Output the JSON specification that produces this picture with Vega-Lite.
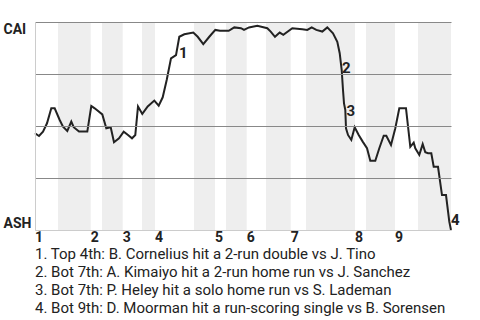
{
  "$schema": "https://vega.github.io/schema/vega-lite/v6.json",
  "width": 416,
  "height": 208,
  "autosize": {"type": "none"},
  "padding": {"left": 35, "top": 22, "right": 29, "bottom": 90},
  "background": "white",
  "config": {"view": {"stroke": null}, "font": "Roboto", "text": {"font": "Roboto"}},
  "datasets": {
    "bands": [
      {"half": "Bot 1", "start": 23, "end": 55.7},
      {"half": "Bot 2", "start": 67, "end": 87.7},
      {"half": "Bot 3", "start": 107, "end": 120},
      {"half": "Bot 4", "start": 159, "end": 180},
      {"half": "Bot 5", "start": 191, "end": 211.7},
      {"half": "Bot 6", "start": 231, "end": 255.7},
      {"half": "Bot 7", "start": 271, "end": 320},
      {"half": "Bot 8", "start": 331, "end": 360},
      {"half": "Bot 9", "start": 383, "end": 416}
    ],
    "innings": [
      {"inning": "1", "start": 0},
      {"inning": "2", "start": 55.7},
      {"inning": "3", "start": 87.7},
      {"inning": "4", "start": 120},
      {"inning": "5", "start": 180},
      {"inning": "6", "start": 211.7},
      {"inning": "7", "start": 255.7},
      {"inning": "8", "start": 320},
      {"inning": "9", "start": 360}
    ],
    "plays": [
      {"x": 0, "wp": 0.465}, {"x": 4, "wp": 0.452}, {"x": 8, "wp": 0.473}, {"x": 12, "wp": 0.513},
      {"x": 16.3, "wp": 0.585}, {"x": 19.7, "wp": 0.585}, {"x": 24.7, "wp": 0.529}, {"x": 28, "wp": 0.497},
      {"x": 32.3, "wp": 0.476}, {"x": 36.3, "wp": 0.521}, {"x": 38.7, "wp": 0.494}, {"x": 44, "wp": 0.473},
      {"x": 52.3, "wp": 0.473}, {"x": 56.3, "wp": 0.596}, {"x": 59.7, "wp": 0.585}, {"x": 67.3, "wp": 0.556},
      {"x": 71.3, "wp": 0.489}, {"x": 75.7, "wp": 0.494}, {"x": 79, "wp": 0.422}, {"x": 84, "wp": 0.441},
      {"x": 88.7, "wp": 0.473}, {"x": 93, "wp": 0.457}, {"x": 97, "wp": 0.441}, {"x": 100.3, "wp": 0.457},
      {"x": 103, "wp": 0.594}, {"x": 107.3, "wp": 0.558}, {"x": 112.7, "wp": 0.594}, {"x": 119.3, "wp": 0.622},
      {"x": 123.7, "wp": 0.598}, {"x": 127.7, "wp": 0.638}, {"x": 131.7, "wp": 0.721}, {"x": 136, "wp": 0.825},
      {"x": 141, "wp": 0.841}, {"x": 144.3, "wp": 0.929}, {"x": 149.3, "wp": 0.941}, {"x": 158.3, "wp": 0.949},
      {"x": 162.7, "wp": 0.929}, {"x": 168.3, "wp": 0.894}, {"x": 174.3, "wp": 0.929}, {"x": 180.3, "wp": 0.962},
      {"x": 185, "wp": 0.958}, {"x": 193.7, "wp": 0.958}, {"x": 199.3, "wp": 0.974}, {"x": 206, "wp": 0.97},
      {"x": 209, "wp": 0.962}, {"x": 214, "wp": 0.974}, {"x": 222.3, "wp": 0.982}, {"x": 232.3, "wp": 0.97},
      {"x": 235.7, "wp": 0.954}, {"x": 240, "wp": 0.929}, {"x": 244.7, "wp": 0.949}, {"x": 248.3, "wp": 0.938},
      {"x": 257.3, "wp": 0.97}, {"x": 267.3, "wp": 0.965}, {"x": 272.3, "wp": 0.962}, {"x": 276.7, "wp": 0.974},
      {"x": 281.3, "wp": 0.962}, {"x": 287.3, "wp": 0.954}, {"x": 292.3, "wp": 0.974}, {"x": 298, "wp": 0.946},
      {"x": 302.3, "wp": 0.905}, {"x": 304.7, "wp": 0.85}, {"x": 306.7, "wp": 0.769}, {"x": 308, "wp": 0.673},
      {"x": 309, "wp": 0.609}, {"x": 310.3, "wp": 0.577}, {"x": 311, "wp": 0.489}, {"x": 313, "wp": 0.457},
      {"x": 316.3, "wp": 0.433}, {"x": 319.7, "wp": 0.494}, {"x": 323.7, "wp": 0.457}, {"x": 327.7, "wp": 0.425},
      {"x": 332, "wp": 0.393}, {"x": 335.3, "wp": 0.333}, {"x": 340.3, "wp": 0.333}, {"x": 344.3, "wp": 0.393},
      {"x": 348.7, "wp": 0.453}, {"x": 351.3, "wp": 0.453}, {"x": 356, "wp": 0.409}, {"x": 360.3, "wp": 0.489},
      {"x": 364.3, "wp": 0.585}, {"x": 371, "wp": 0.585}, {"x": 375.3, "wp": 0.4}, {"x": 378.7, "wp": 0.42},
      {"x": 380.3, "wp": 0.393}, {"x": 384.3, "wp": 0.361}, {"x": 387.7, "wp": 0.413}, {"x": 390.3, "wp": 0.374},
      {"x": 393, "wp": 0.369}, {"x": 396.3, "wp": 0.369}, {"x": 398.7, "wp": 0.304}, {"x": 403, "wp": 0.304},
      {"x": 407, "wp": 0.168}, {"x": 411, "wp": 0.168}, {"x": 414.3, "wp": 0.04}, {"x": 416, "wp": 0}
    ],
    "marks": [
      {"n": "1", "lx": 144, "ly": 0.849},
      {"n": "2", "lx": 307, "ly": 0.779},
      {"n": "3", "lx": 311.5, "ly": 0.57},
      {"n": "4", "lx": 416, "ly": 0.05}
    ],
    "notes": [
      {"n": 1, "note": "1. Top 4th: B. Cornelius hit a 2-run double vs J. Tino"},
      {"n": 2, "note": "2. Bot 7th: A. Kimaiyo hit a 2-run home run vs J. Sanchez"},
      {"n": 3, "note": "3. Bot 7th: P. Heley hit a solo home run vs S. Lademan"},
      {"n": 4, "note": "4. Bot 9th: D. Moorman hit a run-scoring single vs B. Sorensen"}
    ]
  },
  "layer": [
    {
      "layer": [
        {
          "data": {"name": "bands"},
          "mark": {"type": "rect", "color": "#eeeeee"},
          "encoding": {
            "x": {"field": "start", "type": "quantitative", "scale": {"domain": [0, 416], "nice": false, "zero": false}},
            "x2": {"field": "end"}
          }
        },
        {
          "data": {"name": "plays"},
          "mark": {"type": "line", "color": "#222222", "strokeWidth": 2, "strokeJoin": "miter"},
          "encoding": {
            "x": {"field": "x", "type": "quantitative", "scale": {"domain": [0, 416], "nice": false, "zero": false},
                  "axis": {"title": null, "labels": false, "ticks": false, "grid": false, "domain": true, "domainColor": "#cccccc", "zindex": 1}},
            "y": {"field": "wp", "type": "quantitative", "scale": {"domain": [0, 1], "nice": false},
                  "axis": {"title": null, "values": [0, 0.25, 0.5, 0.75, 1], "grid": true,
                           "gridColor": {"condition": {"test": "datum.value === 0", "value": "#cccccc"}, "value": "#888888"},
                           "gridWidth": 1, "domain": true, "domainColor": "#cccccc", "ticks": false, "zindex": 1,
                           "labelExpr": "datum.value === 1 ? 'CAI' : (datum.value === 0 ? 'ASH' : '')",
                           "labelFlush": true, "labelAlign": "left", "labelPadding": 32,
                           "labelFont": "Roboto", "labelFontSize": 14, "labelFontWeight": "bold", "labelColor": "#222222"}}
          }
        },
        {
          "data": {"name": "marks"},
          "mark": {"type": "text", "align": "left", "baseline": "middle", "fontSize": 15, "fontWeight": "bold", "color": "#222222"},
          "encoding": {
            "x": {"field": "lx", "type": "quantitative"},
            "y": {"field": "ly", "type": "quantitative"},
            "text": {"field": "n", "type": "nominal"}
          }
        },
        {
          "data": {"name": "innings"},
          "mark": {"type": "text", "align": "left", "baseline": "alphabetic", "dy": 11.7, "fontSize": 14, "fontWeight": "bold", "color": "#222222"},
          "encoding": {
            "x": {"field": "start", "type": "quantitative"},
            "y": {"datum": 0},
            "text": {"field": "inning", "type": "nominal"}
          }
        }
      ]
    },
    {
      "data": {"name": "notes"},
      "mark": {"type": "text", "align": "left", "baseline": "alphabetic", "fontSize": 15, "color": "#222222"},
      "encoding": {
        "x": {"datum": 0},
        "y": {"field": "n", "type": "ordinal", "scale": {"type": "point", "range": [237.3, 290.7], "padding": 0}, "axis": null},
        "text": {"field": "note", "type": "nominal"}
      }
    }
  ],
  "resolve": {"scale": {"y": "independent"}}
}
